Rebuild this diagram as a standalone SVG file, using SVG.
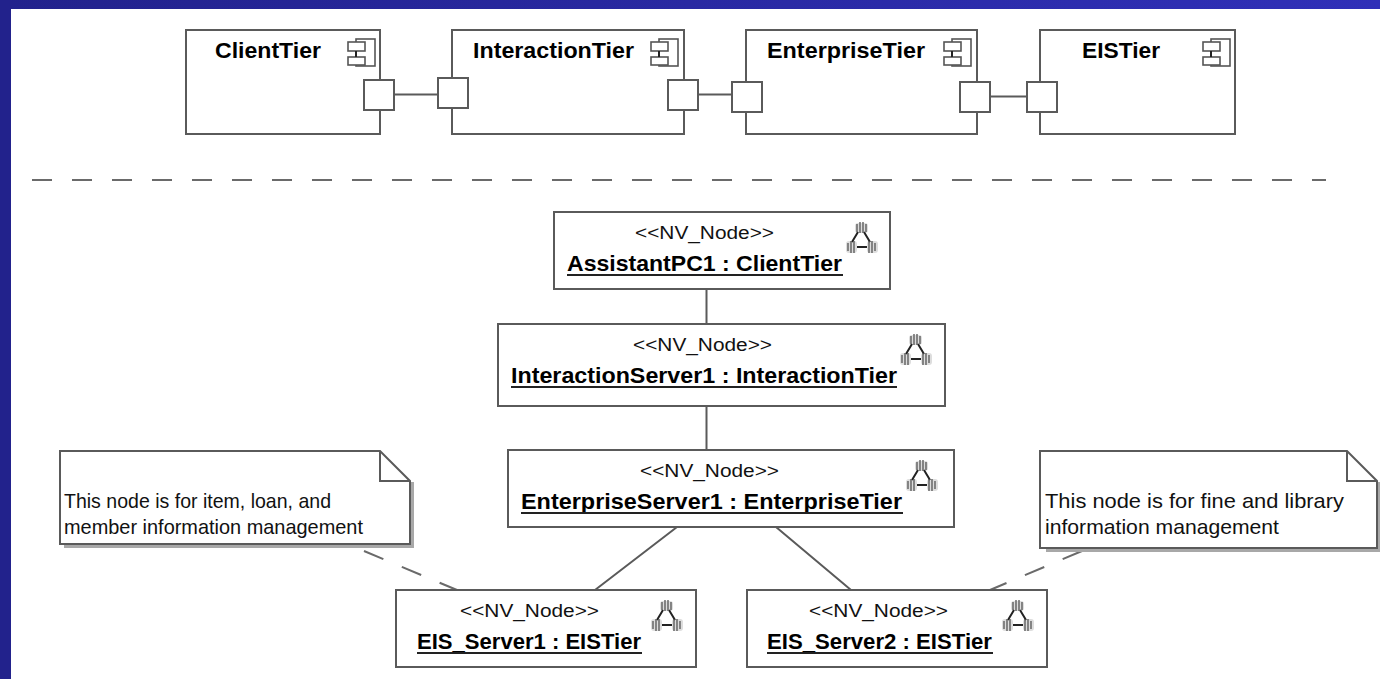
<svg xmlns="http://www.w3.org/2000/svg" width="1380" height="679" viewBox="0 0 1380 679">
<style>
.b{fill:#fff;stroke:#5a5a5a;stroke-width:2}
.c{fill:none;stroke:#5a5a5a;stroke-width:2}
.d{fill:none;stroke:#6a6a6a;stroke-width:2;stroke-dasharray:20 20}
.t{font-family:"Liberation Sans",Arial,sans-serif;font-weight:bold;font-size:21.500px;fill:#000}
.s{font-family:"Liberation Sans",Arial,sans-serif;font-size:17.500px;fill:#111}
.n{font-family:"Liberation Sans",Arial,sans-serif;font-size:21px;fill:#111}
.u{stroke:#222;stroke-width:2}
.i{fill:#fff;stroke:#555;stroke-width:1.6}
.m{fill:none;stroke:#222;stroke-width:2}
.sh{fill:#a8a8a8}
.q{fill:#ddd}
</style>
<defs>
<linearGradient id="bg" x1="0" x2="1" y1="0" y2="0"><stop offset="0" stop-color="#22228c"/><stop offset="1" stop-color="#3030b8"/></linearGradient>
<g id="ci"><rect class="i" x="8" y="0" width="19" height="27"/><rect class="i" x="0" y="3" width="17" height="9"/><rect class="i" x="0" y="18" width="17" height="8"/><path class="m" d="M8 12V18"/></g>
<g id="ni"><rect class="q" x="9" y="1" width="13" height="10" rx="3"/><rect class="q" x="0" y="19" width="11" height="12" rx="3"/><rect class="q" x="21" y="19" width="11" height="12" rx="3"/><path class="m" d="M12 10L6 20M18 10L24 20M11 25H21"/><g fill="none" stroke="#555" stroke-width="1.300"><path d="M11 2V10M14 0V11M17 0V11M20 2V10"/><path d="M2 21V29M5 19V31M8 19V31"/><path d="M23 19V31M26 19V31M29 21V29"/></g></g>
</defs>
<rect width="1380" height="679" fill="#fff"/>
<rect width="1380" height="9" fill="url(#bg)"/>
<rect width="11" height="679" fill="#22228c"/>
<g id="connectors">
<path class="c" d="M394 94.500H438M698 94.500H732M990 96.500H1027"/>
<path class="d" d="M32 180H1326"/>
<path class="c" d="M706.500 289V324M706.500 406V450M677 527L595 590M776 527L851 590"/>
<path class="d" style="stroke-dasharray:21 20" d="M364 551L457 590M1082 551L990 590"/>
</g>
<g id="ClientTier"><rect class="b" x="186" y="30" width="194" height="104"/><text class="t" x="215" y="57.500" textLength="106" lengthAdjust="spacingAndGlyphs">ClientTier</text><use href="#ci" x="348" y="39"/><rect class="b" x="364" y="80" width="30" height="30"/></g>
<g id="InteractionTier"><rect class="b" x="452" y="30" width="232" height="104"/><text class="t" x="473" y="57.500" textLength="161" lengthAdjust="spacingAndGlyphs">InteractionTier</text><use href="#ci" x="651" y="39"/><rect class="b" x="438" y="78" width="30" height="30"/><rect class="b" x="668" y="80" width="30" height="30"/></g>
<g id="EnterpriseTier"><rect class="b" x="746" y="30" width="231" height="104"/><text class="t" x="767" y="57.500" textLength="158" lengthAdjust="spacingAndGlyphs">EnterpriseTier</text><use href="#ci" x="944" y="39"/><rect class="b" x="732" y="82" width="30" height="30"/><rect class="b" x="960" y="82" width="30" height="30"/></g>
<g id="EISTier"><rect class="b" x="1040" y="30" width="195" height="104"/><text class="t" x="1082" y="57.500" textLength="78" lengthAdjust="spacingAndGlyphs">EISTier</text><use href="#ci" x="1203" y="39"/><rect class="b" x="1027" y="82" width="30" height="30"/></g>
<g id="AssistantPC1"><rect class="b" x="554" y="212" width="336" height="77"/><text class="s" x="635" y="238.500" textLength="139" lengthAdjust="spacingAndGlyphs">&lt;&lt;NV_Node&gt;&gt;</text><text class="t" x="567" y="271" textLength="275" lengthAdjust="spacingAndGlyphs">AssistantPC1 : ClientTier</text><path class="u" d="M567 275H843"/><use href="#ni" x="846" y="222"/></g>
<g id="InteractionServer1"><rect class="b" x="498" y="324" width="447" height="82"/><text class="s" x="633" y="350.500" textLength="139" lengthAdjust="spacingAndGlyphs">&lt;&lt;NV_Node&gt;&gt;</text><text class="t" x="511" y="383" textLength="386" lengthAdjust="spacingAndGlyphs">InteractionServer1 : InteractionTier</text><path class="u" d="M511 387H897"/><use href="#ni" x="900" y="334"/></g>
<g id="EnterpriseServer1"><rect class="b" x="508" y="450" width="446" height="77"/><text class="s" x="640" y="476.500" textLength="139" lengthAdjust="spacingAndGlyphs">&lt;&lt;NV_Node&gt;&gt;</text><text class="t" x="521" y="509" textLength="381" lengthAdjust="spacingAndGlyphs">EnterpriseServer1 : EnterpriseTier</text><path class="u" d="M521 513H903"/><use href="#ni" x="906" y="460"/></g>
<g id="EIS_Server1"><rect class="b" x="396" y="590" width="300" height="77"/><text class="s" x="460" y="616.500" textLength="139" lengthAdjust="spacingAndGlyphs">&lt;&lt;NV_Node&gt;&gt;</text><text class="t" x="417" y="649" textLength="224" lengthAdjust="spacingAndGlyphs">EIS_Server1 : EISTier</text><path class="u" d="M417 653H642"/><use href="#ni" x="651" y="600"/></g>
<g id="EIS_Server2"><rect class="b" x="747" y="590" width="300" height="77"/><text class="s" x="809" y="616.500" textLength="139" lengthAdjust="spacingAndGlyphs">&lt;&lt;NV_Node&gt;&gt;</text><text class="t" x="767" y="649" textLength="225" lengthAdjust="spacingAndGlyphs">EIS_Server2 : EISTier</text><path class="u" d="M767 653H993"/><use href="#ni" x="1002" y="600"/></g>
<g id="Note1"><rect class="sh" x="64" y="482" width="350" height="66"/><path class="b" d="M60 451H380L410 481V544H60z"/><path class="c" d="M380 451V481H410"/><text class="n" x="64" y="508" textLength="267" lengthAdjust="spacingAndGlyphs">This node is for item, loan, and</text><text class="n" x="64" y="534" textLength="299" lengthAdjust="spacingAndGlyphs">member information management</text></g>
<g id="Note2"><rect class="sh" x="1046" y="482" width="334" height="70"/><path class="b" d="M1040 451H1347L1377 481V548H1040z"/><path class="c" d="M1347 451V481H1377"/><text class="n" x="1045" y="508" textLength="299" lengthAdjust="spacingAndGlyphs">This node is for fine and library</text><text class="n" x="1045" y="534" textLength="234" lengthAdjust="spacingAndGlyphs">information management</text></g>
</svg>
